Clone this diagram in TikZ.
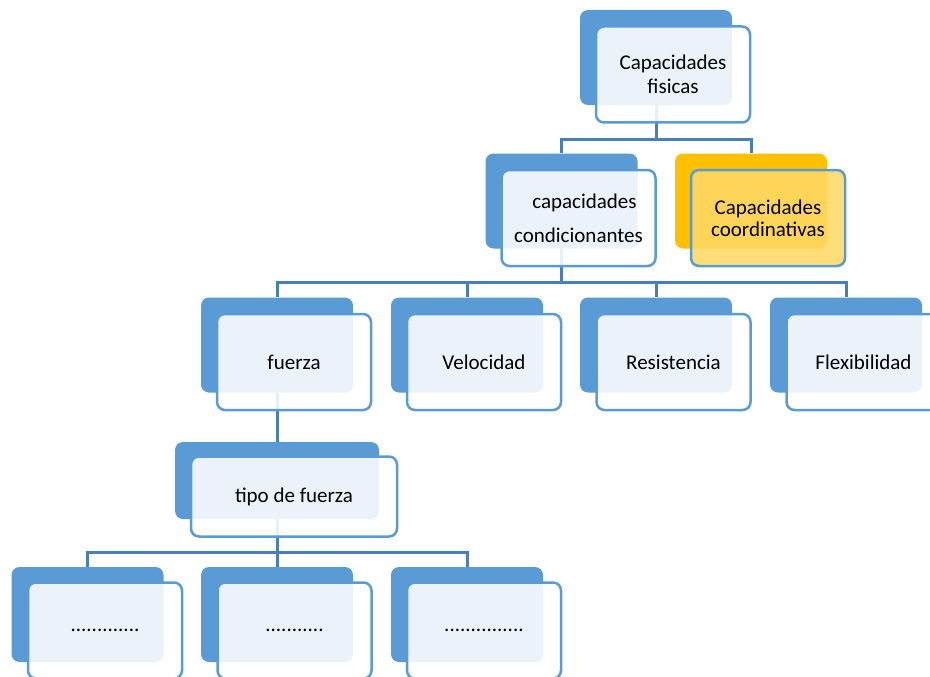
\documentclass[tikz,border=0pt]{standalone}
\usepackage{fontspec}
\setmainfont{Carlito}
\usetikzlibrary{backgrounds}
\definecolor{bk}{HTML}{5B9BD5}
\definecolor{ln}{HTML}{4A7EBB}
\definecolor{yb}{HTML}{FFC000}
\definecolor{yf}{HTML}{FFD966}
\tikzset{
 backbox/.style={rectangle, rounded corners=8pt, fill=bk, minimum width=152pt, minimum height=95pt, inner sep=0pt},
 frontbox/.style={rectangle, rounded corners=8pt, draw=bk, line width=2.5pt, fill=white, fill opacity=0.88, text opacity=1, draw opacity=1, minimum width=154pt, minimum height=96pt, inner sep=0pt, align=center, font=\fontsize{21}{24}\selectfont, text=black},
 conn/.style={draw=ln, line width=3pt},
}
\begin{document}
\begin{tikzpicture}[x=1pt,y=-1pt]
\useasboundingbox (0,0) rectangle (930,677);
% level 1
\node[backbox] (topb) at (656,57.5) {};
\node[frontbox] (top) at (673,74.5) {Capacidades\\fisicas};
% level 2
\node[backbox] (condb) at (561.5,201) {};
\node[frontbox] (cond) at (578.5,218) {\hspace*{12pt}capacidades\\[10pt]condicionantes};
\node[backbox, fill=yb] (coorb) at (751,201) {};
\node[frontbox, fill=yf] (coor) at (768,218) {Capacidades\\[-2pt]coordinativas};
% level 3
\node[backbox] (fueb) at (277,345) {};
\node[frontbox] (fue) at (294,362) {fuerza};
\node[backbox] (velb) at (467,345) {};
\node[frontbox] (vel) at (484,362) {Velocidad};
\node[backbox] (resb) at (656,345) {};
\node[frontbox] (res) at (673.5,362) {Resistencia};
\node[backbox] (flxb) at (846,345) {};
\node[frontbox] (flx) at (863.5,362) {Flexibilidad};
% level 4
\node[backbox, minimum width=204pt, minimum height=77pt] (tipb) at (277,480.5) {};
\node[frontbox, minimum width=206pt, minimum height=80pt] (tip) at (294,496.5) {tipo de fuerza};
% level 5
\node[backbox] (d1b) at (87.5,614.5) {};
\node[frontbox] (d1) at (105,630.5) {.............};
\node[backbox] (d2b) at (277,614.5) {};
\node[frontbox] (d2) at (294.5,630.5) {...........};
\node[backbox] (d3b) at (467,614.5) {};
\node[frontbox] (d3) at (484,630.5) {...............};
% connectors
\coordinate (j1) at (656,139);
\coordinate (j2) at (561.5,282);
\coordinate (j4) at (277,552);
\begin{pgfonlayer}{background}
\draw[conn] (topb.south) -- (j1) -| (condb.north);
\draw[conn] (j1) -| (coorb.north);
\draw[conn] (condb.south) -- (j2) -| (fueb.north);
\draw[conn] (j2) -| (velb.north);
\draw[conn] (j2) -| (resb.north);
\draw[conn] (j2) -| (flxb.north);
\draw[conn] (fueb.south) -- (tipb.north);
\draw[conn] (tipb.south) -- (j4) -| (d1b.north);
\draw[conn] (j4) -- (d2b.north);
\draw[conn] (j4) -| (d3b.north);
\end{pgfonlayer}
\end{tikzpicture}
\end{document}
